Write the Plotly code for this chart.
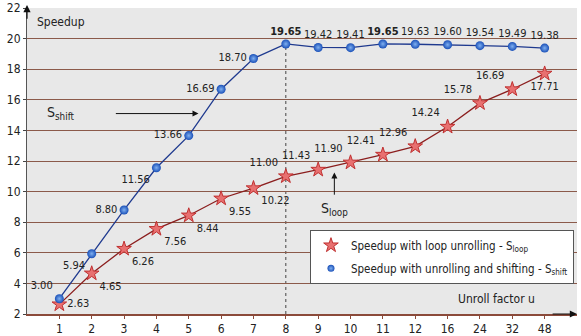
import plotly.graph_objects as go

unroll = ["1", "2", "3", "4", "5", "6", "7", "8", "9", "10", "11", "12", "16", "24", "32", "48"]
s_loop = [2.63, 4.65, 6.26, 7.56, 8.44, 9.55, 10.22, 11.00, 11.43, 11.90, 12.41, 12.96, 14.24, 15.78, 16.69, 17.71]
s_shift = [3.00, 5.94, 8.80, 11.56, 13.66, 16.69, 18.70, 19.65, 19.42, 19.41, 19.65, 19.63, 19.60, 19.54, 19.49, 19.38]

loop_pos = ["middle right", "bottom right", "bottom right", "bottom right", "bottom right", "bottom right",
            "bottom right", "top left", "top left", "top left", "top left", "top left",
            "top left", "top left", "top left", "bottom center"]
shift_pos = ["top left", "bottom left", "middle left", "bottom left", "middle left", "middle left",
             "middle left", "top center", "top center", "top center", "top center", "top center",
             "top center", "top center", "top center", "top center"]

smax = max(s_shift)
shift_text = [f"<b>{v:.2f}</b>" if v == smax else f"{v:.2f}" for v in s_shift]
loop_text = [f"{v:.2f}" for v in s_loop]

font = "DejaVu Sans Condensed, DejaVu Sans"
loop_name = "Speedup with loop unrolling - S<sub>loop</sub>"
shift_name = "Speedup with unrolling and shifting - S<sub>shift</sub>"
loop_marker = dict(symbol="star", size=11, color="#e87070", line=dict(color="#c03030", width=1))
shift_marker = dict(symbol="circle", size=9, color="#1a50b8",
                    gradient=dict(type="radial", color="#7fb0f0"), line=dict(width=0))

fig = go.Figure()

fig.add_trace(go.Scatter(
    x=unroll, y=s_loop, mode="lines+markers+text", text=loop_text, textposition=loop_pos,
    textfont=dict(size=11, color="#222222", family=font),
    line=dict(color="#8b1e1e", width=1.3), marker=loop_marker, showlegend=False,
))
fig.add_trace(go.Scatter(
    x=unroll, y=s_shift, mode="lines+markers+text", text=shift_text, textposition=shift_pos,
    textfont=dict(size=11, color="#222222", family=font),
    line=dict(color="#1f3a8f", width=1.3), marker=shift_marker, showlegend=False,
))
# legend entries (markers only, as in the reference)
fig.add_trace(go.Scatter(x=[None], y=[None], mode="markers", marker=loop_marker,
                         name=loop_name, legendgroup="a"))
fig.add_trace(go.Scatter(x=[None], y=[None], mode="markers",
                         marker=dict(symbol="circle", size=7, color="#1a50b8",
                                     gradient=dict(type="radial", color="#7fb0f0"), line=dict(width=0)),
                         name=shift_name, legendgroup="b"))

# vertical dotted line at peak
peak_idx = s_shift.index(smax)
fig.add_shape(type="line", x0=peak_idx, x1=peak_idx, y0=2, y1=smax, xref="x", yref="y",
              line=dict(color="#444444", width=1, dash="dot"), layer="below")

ann = [
    dict(x=-0.75, y=21.1, text="Speedup", showarrow=False, xanchor="left",
         font=dict(size=12, color="#222222", family=font)),
    dict(x=14.75, y=2.95, text="Unroll factor u", showarrow=False, xanchor="right",
         font=dict(size=12, color="#222222", family=font)),
    dict(x=0.05, y=15.15, text="S<sub>shift</sub>", showarrow=False,
         font=dict(size=14, color="#222222", family=font)),
    dict(x=4.3, y=15.1, ax=1.7, ay=15.1, axref="x", ayref="y", text="", showarrow=True,
         arrowhead=2, arrowsize=1.2, arrowwidth=1, arrowcolor="#111111"),
    dict(x=8.5, y=8.85, text="S<sub>loop</sub>", showarrow=False,
         font=dict(size=14, color="#222222", family=font)),
    dict(x=8.5, y=11.25, ax=8.5, ay=9.7, axref="x", ayref="y", text="", showarrow=True,
         arrowhead=2, arrowsize=1.2, arrowwidth=1, arrowcolor="#111111"),
    # axis arrows
    dict(x=-1, y=22.2, ax=-1, ay=21.2, axref="x", ayref="y", text="", showarrow=True,
         arrowhead=2, arrowsize=1.2, arrowwidth=1.2, arrowcolor="#111111"),
    dict(x=16.0, y=2, ax=15.2, ay=2, axref="x", ayref="y", text="", showarrow=True,
         arrowhead=2, arrowsize=1.2, arrowwidth=1.2, arrowcolor="#111111"),
]

fig.update_layout(
    width=581, height=336,
    margin=dict(l=27, r=4, t=8, b=22, autoexpand=False),
    paper_bgcolor="white", plot_bgcolor="#e8e8e8",
    font=dict(family=font, size=12, color="#222222"),
    showlegend=True,
    legend=dict(x=0.9945, y=0.275, xanchor="right", yanchor="top", bgcolor="white",
                bordercolor="#555555", borderwidth=1, font=dict(size=11.5, family=font, color="#222222"),
                itemwidth=30, tracegroupgap=4),
    annotations=ann,
)
fig.update_xaxes(type="category", range=[-1, 16], showgrid=False, showline=True, automargin=False,
                 linecolor="#8b4a3a", linewidth=1.5, ticks="outside", ticklen=3,
                 tickcolor="#8b4a3a", tickfont=dict(size=12), zeroline=False)
fig.update_yaxes(range=[2, 22], dtick=2, showgrid=True, gridcolor="#8b5a4a", gridwidth=1,
                 showline=True, linecolor="#555555", linewidth=1, ticks="outside", ticklen=3,
                 automargin=False, tickfont=dict(size=12), zeroline=False)

fig.write_html("out.html", config={"displayModeBar": False},
               post_script="document.body.style.margin='0';document.body.style.overflow='hidden';")
